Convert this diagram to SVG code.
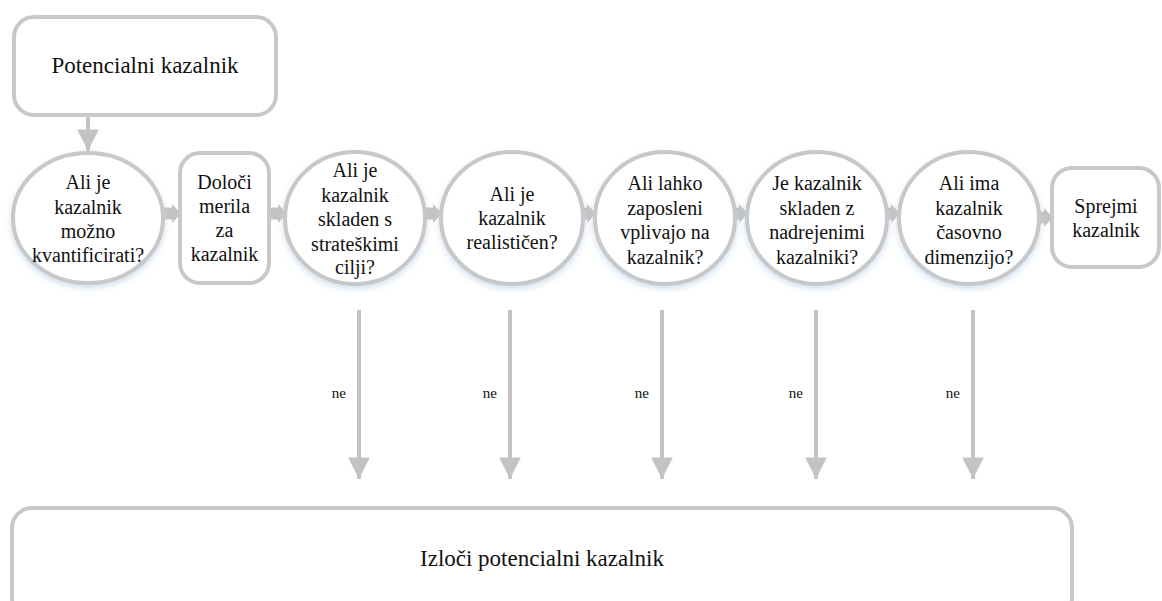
<svg xmlns="http://www.w3.org/2000/svg" width="1162" height="601" viewBox="0 0 1162 601">
  <style>
    .shape { fill: #ffffff; stroke: #c8c8c8; stroke-width: 4; }
    .lbl { font-family: "Liberation Serif", "DejaVu Serif", "Noto Serif", serif; fill: #111111; text-anchor: middle; }
    .big { font-size: 23px; }
    .mid { font-size: 20px; }
    .small { font-size: 15px; text-anchor: end; }
    .conn { stroke: #c3c3c3; stroke-width: 4; fill: none; }
    .blk { fill: #c3c3c3; }
  </style>
  <defs>
    <filter id="glow" x="-20%" y="-20%" width="140%" height="150%">
      <feDropShadow dx="0" dy="3" stdDeviation="3" flood-color="#bcd3ea" flood-opacity="0.7"/>
    </filter>
    <marker id="head" viewBox="0 0 10 10" refX="10" refY="5" markerWidth="5.6" markerHeight="5.4" markerUnits="strokeWidth" orient="auto">
      <path d="M0,0 L10,5 L0,10 Z" fill="#c3c3c3"/>
    </marker>
  </defs>

  <!-- connectors -->
  <g id="connectors">
    <!-- start to first question -->
    <line class="conn" x1="88" y1="117" x2="88" y2="151" marker-end="url(#head)"/>
    <!-- chunky arrows along the main row -->
    <path class="blk" d="M163,207.5 H172 V204 L181,213.5 L172,223 V219.5 H163 Z"/>
    <path class="blk" d="M269,207.5 H278 V204 L287,213.5 L278,223 V219.5 H269 Z"/>
    <path class="blk" d="M424,207.5 H433 V204 L442,213.5 L433,223 V219.5 H424 Z"/>
    <path class="blk" d="M582,207.5 H587 V204 L596,213.5 L587,223 V219.5 H582 Z"/>
    <path class="blk" d="M734,207.5 H739 V204 L748,213.5 L739,223 V219.5 H734 Z"/>
    <path class="blk" d="M886,207.5 H891 V204 L900,213.5 L891,223 V219.5 H886 Z"/>
    <path class="blk" d="M1038,211.5 H1044 V208 L1053,217.5 L1044,227 V223.5 H1038 Z"/>
    <!-- rejection paths -->
    <line class="conn" x1="359" y1="310" x2="359" y2="479" marker-end="url(#head)"/>
    <line class="conn" x1="510" y1="310" x2="510" y2="479" marker-end="url(#head)"/>
    <line class="conn" x1="662" y1="310" x2="662" y2="479" marker-end="url(#head)"/>
    <line class="conn" x1="816" y1="310" x2="816" y2="479" marker-end="url(#head)"/>
    <line class="conn" x1="973" y1="310" x2="973" y2="479" marker-end="url(#head)"/>
    <text class="lbl small" x="346" y="398">ne</text>
    <text class="lbl small" x="497" y="398">ne</text>
    <text class="lbl small" x="649" y="398">ne</text>
    <text class="lbl small" x="803" y="398">ne</text>
    <text class="lbl small" x="960" y="398">ne</text>
  </g>

  <g id="start">
    <rect class="shape" x="14" y="17" width="262" height="98" rx="20"/>
    <text class="lbl big" x="145" y="73">Potencialni kazalnik</text>
  </g>

  <g id="q-quantify">
    <ellipse class="shape" filter="url(#glow)" cx="88" cy="218" rx="75" ry="65"/>
    <text class="lbl mid" x="88" y="189">Ali je</text>
    <text class="lbl mid" x="88" y="214">kazalnik</text>
    <text class="lbl mid" x="88" y="238">možno</text>
    <text class="lbl mid" x="88" y="262">kvantificirati?</text>
  </g>

  <g id="define-measures">
    <rect class="shape" x="180" y="153" width="89" height="130" rx="20"/>
    <text class="lbl mid" x="224.5" y="189">Določi</text>
    <text class="lbl mid" x="224.5" y="213">merila</text>
    <text class="lbl mid" x="224.5" y="237">za</text>
    <text class="lbl mid" x="224.5" y="261">kazalnik</text>
  </g>

  <g id="q-strategic">
    <ellipse class="shape" filter="url(#glow)" cx="355" cy="218" rx="70" ry="66"/>
    <text class="lbl mid" x="355" y="177">Ali je</text>
    <text class="lbl mid" x="355" y="201.5">kazalnik</text>
    <text class="lbl mid" x="355" y="226">skladen s</text>
    <text class="lbl mid" x="355" y="250.5">strateškimi</text>
    <text class="lbl mid" x="355" y="274">cilji?</text>
  </g>

  <g id="q-realistic">
    <ellipse class="shape" filter="url(#glow)" cx="512" cy="218" rx="71" ry="66"/>
    <text class="lbl mid" x="512" y="201">Ali je</text>
    <text class="lbl mid" x="512" y="225">kazalnik</text>
    <text class="lbl mid" x="512" y="249">realističen?</text>
  </g>

  <g id="q-influence">
    <ellipse class="shape" filter="url(#glow)" cx="665" cy="218" rx="70" ry="66"/>
    <text class="lbl mid" x="665" y="190">Ali lahko</text>
    <text class="lbl mid" x="665" y="214.5">zaposleni</text>
    <text class="lbl mid" x="665" y="239">vplivajo na</text>
    <text class="lbl mid" x="665" y="263.5">kazalnik?</text>
  </g>

  <g id="q-superior">
    <ellipse class="shape" filter="url(#glow)" cx="817" cy="218" rx="70" ry="66"/>
    <text class="lbl mid" x="817" y="190">Je kazalnik</text>
    <text class="lbl mid" x="817" y="214.5">skladen z</text>
    <text class="lbl mid" x="817" y="239">nadrejenimi</text>
    <text class="lbl mid" x="817" y="263.5">kazalniki?</text>
  </g>

  <g id="q-time">
    <ellipse class="shape" filter="url(#glow)" cx="969" cy="218" rx="70" ry="66"/>
    <text class="lbl mid" x="969" y="190">Ali ima</text>
    <text class="lbl mid" x="969" y="214.5">kazalnik</text>
    <text class="lbl mid" x="969" y="239">časovno</text>
    <text class="lbl mid" x="969" y="263.5">dimenzijo?</text>
  </g>

  <g id="accept">
    <rect class="shape" x="1052" y="168" width="107" height="99" rx="20"/>
    <text class="lbl mid" x="1106" y="213">Sprejmi</text>
    <text class="lbl mid" x="1106" y="237">kazalnik</text>
  </g>

  <g id="reject">
    <rect class="shape" x="12" y="508" width="1060" height="110" rx="20"/>
    <text class="lbl big" x="542" y="566">Izloči potencialni kazalnik</text>
  </g>
</svg>
